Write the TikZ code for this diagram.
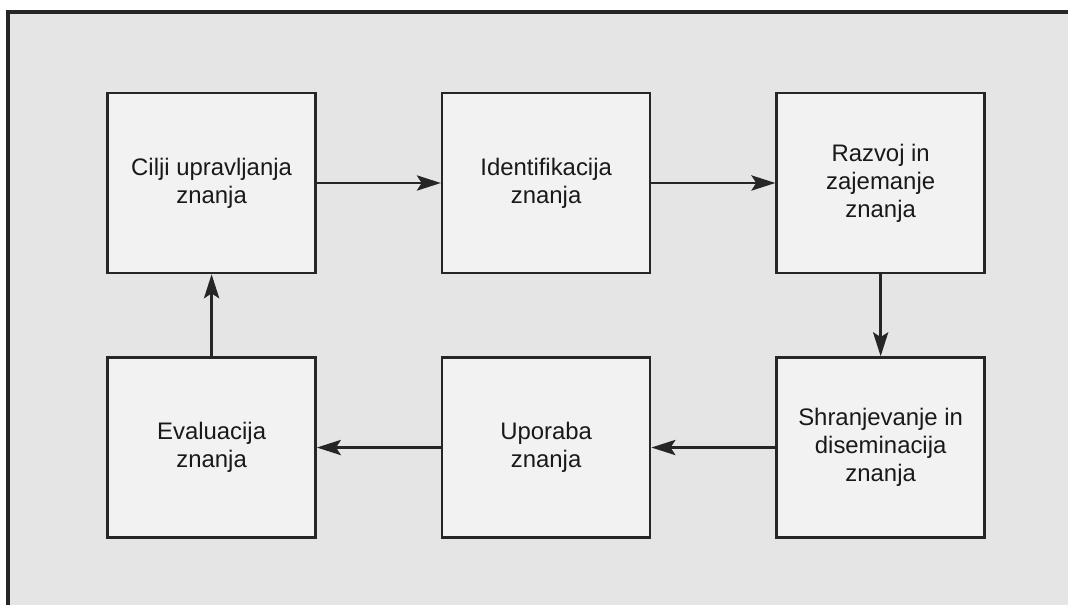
\documentclass[tikz,border=0pt]{standalone}
\usepackage{fontspec}
\setmainfont{Liberation Sans}
\usepackage{tikz}
\usetikzlibrary{arrows.meta,positioning}

\begin{document}
\begin{tikzpicture}[
    korak/.style={draw=black!85, line width=1.8pt, fill=black!5, minimum width=5.2cm, minimum height=4.5cm, align=center, text=black!90, font=\fontsize{17}{20}\selectfont},
    puscica/.style={draw=black!85, line width=1.8pt, -{Stealth[length=0.6cm, width=0.38cm, inset=0.12cm]}},
    node distance=2.05cm and 3.1cm
    ]
            \useasboundingbox (0,0) rectangle (26.7,15.125);
            \fill[black!10] (0.2,0) rectangle (26.7,14.825);
            \draw[black!85, line width=2.6pt] (0.2,0) -- (0.2,14.825) -- (26.7,14.825);
            % zgornja vrsta
            \node[korak] (cilji) at (5.29,10.55) {Cilji upravljanja\\znanja};
            \node[korak, right=of cilji] (ident) {Identifikacija\\znanja};
            \node[korak, right=of ident] (razvoj) {Razvoj in\\zajemanje\\znanja};
            % spodnja vrsta
            \node[korak, below=of razvoj] (shran) {Shranjevanje in\\diseminacija\\znanja};
            \node[korak, left=of shran] (upor) {Uporaba\\znanja};
            \node[korak, left=of upor] (eval) {Evaluacija\\znanja};
            % \node[korak] (x) {};
            \draw[puscica] (cilji) -- (ident);
            \draw[puscica] (ident) -- (razvoj);
            \draw[puscica] (razvoj) -- (shran);
            \draw[puscica] (shran) -- (upor);
            \draw[puscica] (upor) -- (eval);
            \draw[puscica] (eval) -- (cilji);
        \end{tikzpicture}
\end{document}
